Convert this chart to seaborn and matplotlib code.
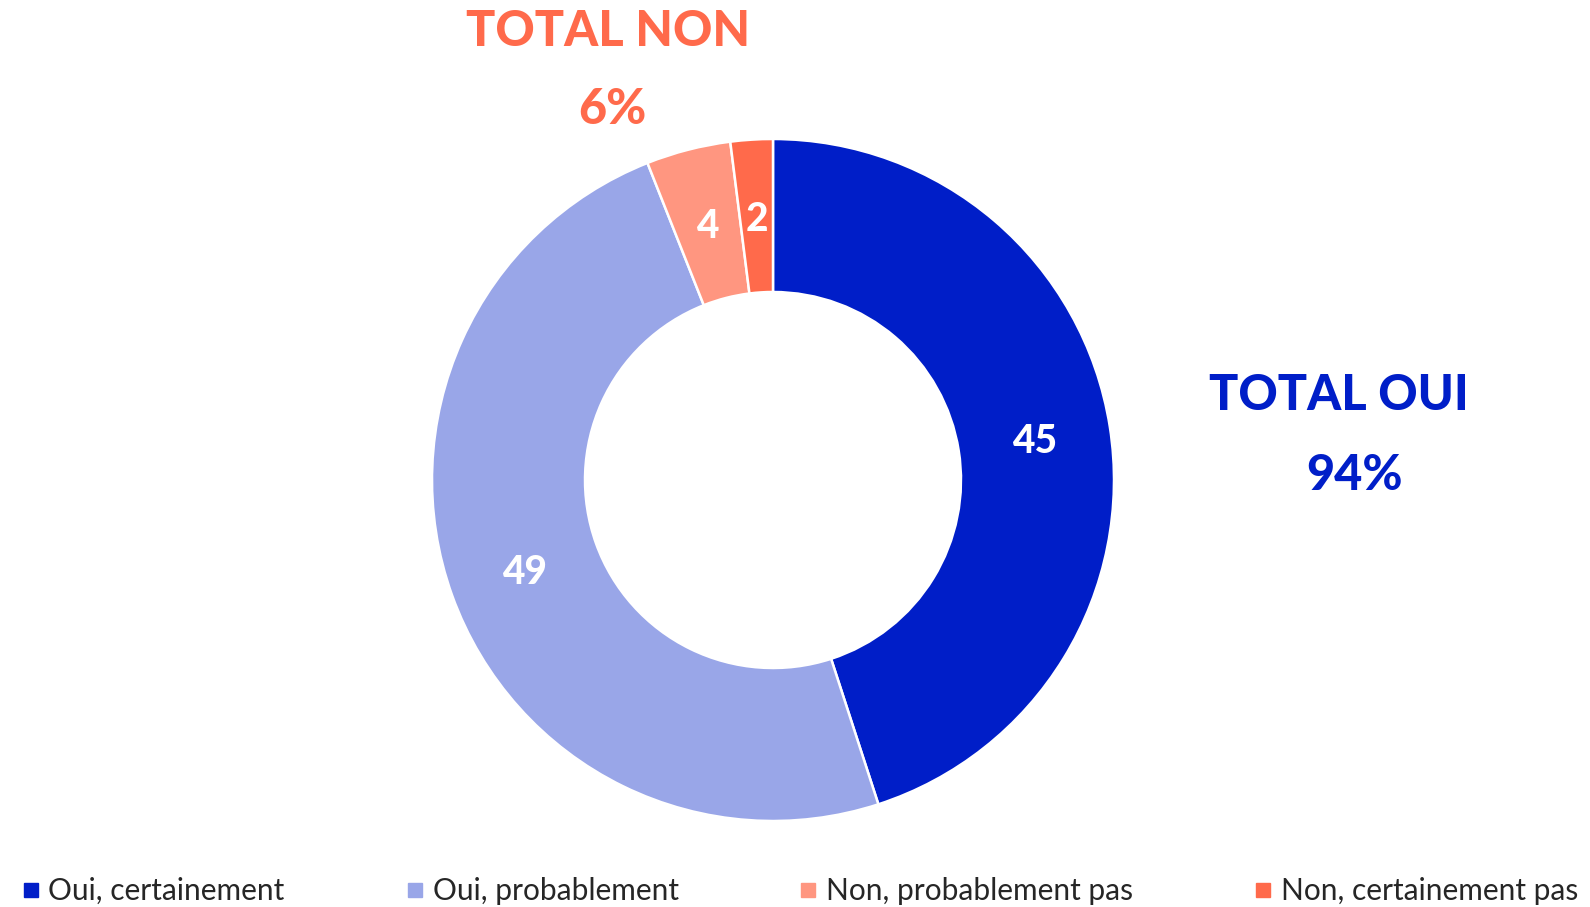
import matplotlib
matplotlib.use("Agg")
import matplotlib.pyplot as plt
from matplotlib.lines import Line2D
import seaborn as sns

categories = ["Oui, certainement", "Oui, probablement", "Non, probablement pas", "Non, certainement pas"]
values = [45, 49, 4, 2]
colors = ["#001EC8", "#99A6E8", "#FF9680", "#FF6A4B"]
total_oui = "94%"
total_non = "6%"

sns.set_theme(style="white")
plt.rcParams['font.family'] = ['Lato', 'DejaVu Sans']

W, H = 1590, 907
fig = plt.figure(figsize=(W / 100, H / 100), dpi=100)
ax = fig.add_axes([0, 0, 1, 1])

cx, cy, R, r_in = 773, H - 480, 341, 188
wedges, _, autotexts = ax.pie(
    values, colors=colors, radius=R, center=(cx, cy), startangle=90,
    counterclock=False,
    autopct=lambda p: f"{p:.0f}", pctdistance=(R + r_in) / 2 / R,
    wedgeprops=dict(width=R - r_in, edgecolor="white", linewidth=1.8),
    textprops=dict(color="white", fontsize=28, fontweight="black"),
)
for t in autotexts:
    x, y = t.get_position()
    t.set_position((x, y - 3))
ax.set_xlim(0, W)
ax.set_ylim(0, H)
ax.set_aspect("equal")
ax.axis("off")

tkw = dict(ha="center", va="center", fontsize=35, fontweight="black")
ax.text(608, H - 31, "TOTAL NON", color=colors[3], **tkw)
ax.text(612, H - 110, total_non, color=colors[3], **tkw)
ax.text(1339, H - 396, "TOTAL OUI", color=colors[0], **tkw)
ax.text(1355, H - 475, total_oui, color=colors[0], **tkw)

handles = [Line2D([0], [0], marker="s", linestyle="none", markersize=9.5,
                  markerfacecolor=c, markeredgecolor=c) for c in colors]
leg = fig.legend(handles, categories, loc="center", ncol=4,
                 bbox_to_anchor=(800 / W, (H - 891) / H), frameon=False,
                 fontsize=21.5, handlelength=0.6, handletextpad=0.3,
                 columnspacing=4.05, borderpad=0, borderaxespad=0)

fig.savefig("out.png", dpi=100)
